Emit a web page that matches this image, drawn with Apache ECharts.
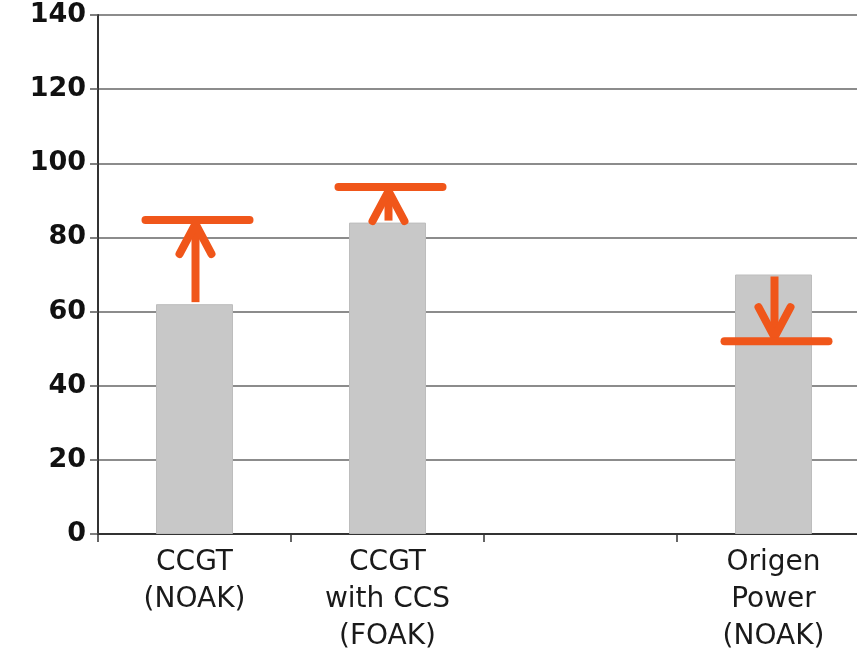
<!DOCTYPE html>
<html>
<head>
<meta charset="utf-8">
<script src="https://cdn.jsdelivr.net/npm/echarts@6/dist/echarts.min.js"></script>
<style>
html,body{margin:0;padding:0;background:#fff;overflow:hidden;}
#chart{width:857px;height:653px;}
</style>
</head>
<body>
<div id="chart"></div>
<script>
// Data
const categories = ['CCGT\n(NOAK)', 'CCGT\nwith CCS\n(FOAK)', '', 'Origen\nPower\n(NOAK)'];
const costValues = [62, 84, null, 70];
const rangeTargets = [84.7, 93.6, null, 52];
const yTicks = [0, 20, 40, 60, 80, 100, 120, 140];

const arrowData = [];
categories.forEach(function (c, i) {
  if (costValues[i] != null && rangeTargets[i] != null) {
    arrowData.push([i, costValues[i], rangeTargets[i]]);
  }
});

const ORANGE = '#F0561A';

const chart = echarts.init(document.getElementById('chart'));
chart.setOption({
  animation: false,
  backgroundColor: '#ffffff',
  grid: { left: 98, right: -13, top: 15, bottom: 119, containLabel: false, outerBoundsMode: 'none' },
  xAxis: {
    type: 'category',
    data: categories,
    boundaryGap: true,
    axisLine: { show: true, lineStyle: { color: '#333', width: 2 } },
    axisTick: { show: true, alignWithLabel: false, length: 8, lineStyle: { color: '#333', width: 1.5 } },
    axisLabel: {
      interval: 0,
      margin: 10,
      color: '#1a1a1a',
      fontFamily: 'DejaVu Sans',
      fontSize: 28,
      lineHeight: 37
    },
    splitLine: { show: false }
  },
  yAxis: {
    type: 'value',
    min: yTicks[0],
    max: yTicks[yTicks.length - 1],
    interval: 20,
    axisLine: { show: true, lineStyle: { color: '#333', width: 2 } },
    axisTick: { show: true, length: 8, lineStyle: { color: '#555', width: 1.5 } },
    axisLabel: {
      margin: 12,
      color: '#111',
      fontFamily: 'DejaVu Sans',
      fontWeight: 'bold',
      fontSize: 27
    },
    splitLine: { show: true, lineStyle: { color: '#666', width: 1.5 } }
  },
  series: [
    {
      type: 'bar',
      data: costValues,
      barWidth: 77,
      itemStyle: { color: '#C8C8C8', borderColor: '#BDBDBD', borderWidth: 1 },
      z: 2
    },
    {
      type: 'custom',
      coordinateSystem: 'cartesian2d',
      data: arrowData,
      encode: { x: 0, y: [1, 2] },
      z: 5,
      renderItem: function (params, api) {
        const idx = api.value(0);
        const s = api.coord([idx, api.value(1)]);
        const e = api.coord([idx, api.value(2)]);
        const dir = e[1] < s[1] ? 1 : -1; // 1 = arrow points up
        const x = s[0] + 1;
        const tipY = e[1] + dir * 4;
        const style = { stroke: ORANGE, lineWidth: 8, lineCap: 'round', lineJoin: 'round', fill: null };
        return {
          type: 'group',
          children: [
            { type: 'line', shape: { x1: x, y1: s[1] - dir * 2, x2: x, y2: tipY }, style: Object.assign({}, style, { lineCap: 'butt' }) },
            { type: 'polyline', shape: { points: [[x - 16, tipY + dir * 30], [x, tipY], [x + 16, tipY + dir * 30]] }, style: style },
            { type: 'line', shape: { x1: x - 50, y1: e[1], x2: x + 54, y2: e[1] }, style: style }
          ]
        };
      }
    }
  ]
});
</script>
</body>
</html>
